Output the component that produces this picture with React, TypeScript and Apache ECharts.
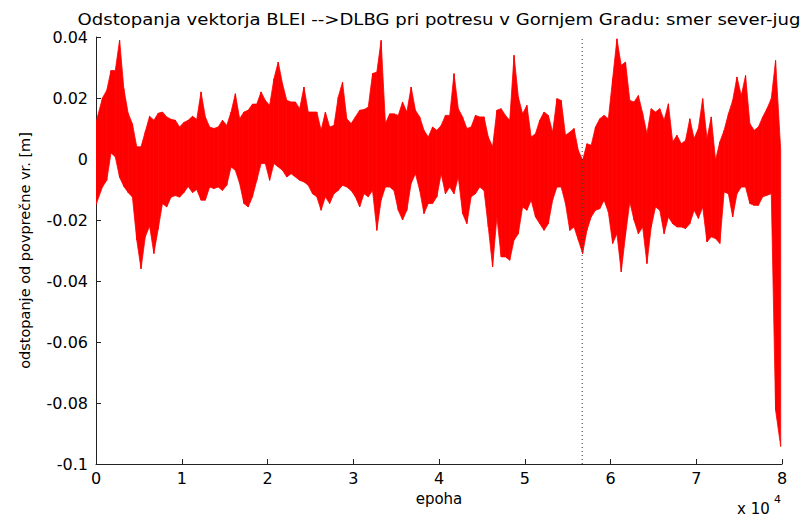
import React, { useEffect, useRef } from "react";
import * as echarts from "echarts";

// Epoch bin width (epochs per envelope sample)
const BIN = 500;

// Upper envelope (max deviation, m) per 500-epoch bin
const upper: number[] = [
  0.012, 0.02, 0.0225, 0.029, 0.029, 0.039, 0.023, 0.015, 0.0115, 0.004,
  0.004, 0.009, 0.014, 0.0127, 0.015, 0.0154, 0.0138, 0.013, 0.0127, 0.0105,
  0.012, 0.0127, 0.014, 0.013, 0.022, 0.0138, 0.0105, 0.01, 0.0105, 0.0127,
  0.011, 0.0154, 0.0214, 0.0132, 0.0154, 0.016, 0.018, 0.018, 0.022, 0.0192,
  0.0176, 0.0263, 0.0318, 0.0247, 0.0192, 0.0187, 0.0187, 0.0165, 0.0236, 0.0154,
  0.0154, 0.0154, 0.0094, 0.0154, 0.0105, 0.011, 0.0203, 0.0252, 0.0132, 0.0116,
  0.0138, 0.016, 0.0162, 0.017, 0.028, 0.0285, 0.0389, 0.0116, 0.0148, 0.0148,
  0.0143, 0.0187, 0.0154, 0.0236, 0.016, 0.0138, 0.0094, 0.0072, 0.0105, 0.0094,
  0.011, 0.0143, 0.0143, 0.028, 0.0165, 0.0138, 0.01, 0.0105, 0.0143, 0.0138,
  0.0138, 0.0072, 0.004, 0.016, 0.0165, 0.0143, 0.0127, 0.034, 0.0203, 0.0148,
  0.0176, 0.0072, 0.0083, 0.0127, 0.0154, 0.0143, 0.0088, 0.0198, 0.0192, 0.0078,
  0.0088, 0.01, 0.0028, -0.0004, 0.005, 0.0045, 0.0105, 0.0132, 0.0143, 0.0132,
  0.0263, 0.0394, 0.0307, 0.0318, 0.0192, 0.0187, 0.0208, 0.015, 0.0083, 0.0165,
  0.0154, 0.0165, 0.0127, 0.0181, 0.0056, 0.0078, 0.005, 0.0061, 0.0132, 0.0067,
  0.01, 0.0198, 0.0067, 0.0138, -0.0004, 0.0056, 0.0094, 0.0148, 0.0192, 0.0269,
  0.0208, 0.0274, 0.0116, 0.0094, 0.0105, 0.0138, 0.0165, 0.0198, 0.0323, 0.0028,
];

// Lower envelope (min deviation, m) per 500-epoch bin
const lower: number[] = [
  -0.015, -0.0092, -0.007, 0.002, 0.0007, -0.006, -0.009, -0.011, -0.0125, -0.0265,
  -0.036, -0.0255, -0.022, -0.031, -0.023, -0.0146, -0.0157, -0.0125, -0.012, -0.0125,
  -0.011, -0.009, -0.011, -0.01, -0.0135, -0.0135, -0.0092, -0.0097, -0.0092, -0.0103,
  -0.0086, -0.0026, -0.0037, -0.008, -0.0146, -0.0157, -0.0124, -0.007, -0.0015, -0.0015,
  -0.007, -0.0015, -0.0026, -0.0037, -0.0059, -0.0048, -0.0059, -0.007, -0.0075, -0.0086,
  -0.0114, -0.0124, -0.0168, -0.0124, -0.0146, -0.0114, -0.0103, -0.0086, -0.0092, -0.0103,
  -0.0124, -0.0157, -0.0114, -0.0124, -0.0103, -0.0234, -0.0135, -0.0092, -0.0092, -0.0103,
  -0.0168, -0.02, -0.0168, -0.008, -0.0048, -0.0103, -0.0179, -0.0146, -0.0146, -0.0124,
  -0.0048, -0.0114, -0.0092, -0.0114, -0.0059, -0.0179, -0.0212, -0.0124, -0.0114, -0.0092,
  -0.0103, -0.0223, -0.0354, -0.019, -0.0321, -0.0321, -0.0332, -0.0266, -0.0245, -0.0157,
  -0.0168, -0.0135, -0.019, -0.0212, -0.0234, -0.0212, -0.0135, -0.0092, -0.0092, -0.0146,
  -0.0234, -0.0223, -0.0266, -0.031, -0.0234, -0.019, -0.0168, -0.0163, -0.0135, -0.0174,
  -0.0277, -0.0245, -0.037, -0.025, -0.0141, -0.0201, -0.0245, -0.0223, -0.0343, -0.0223,
  -0.0157, -0.0168, -0.0245, -0.019, -0.0212, -0.0223, -0.0223, -0.0228, -0.0212, -0.0168,
  -0.0195, -0.0157, -0.0272, -0.0255, -0.0261, -0.0277, -0.0108, -0.0114, -0.019, -0.0114,
  -0.0092, -0.0092, -0.0146, -0.0152, -0.0152, -0.0124, -0.0119, -0.0114, -0.0823, -0.0943,
];

// Earthquake epoch marker (dotted line)
const quakeEpoch = 56700;
// First and last recorded epochs
const firstEpoch = 0;
const lastEpoch = 79850;

const X_MIN = 0;
const X_MAX = 80000;
const X_STEP = 10000;
const Y_MIN = -0.1;
const Y_MAX = 0.04;
const Y_STEP = 0.02;

const TITLE = "Odstopanja vektorja BLEI -->DLBG pri potresu v Gornjem Gradu: smer sever-jug";
const X_NAME = "epoha";
const Y_NAME = "odstopanje od povprečne vr. [m]";

const FONT = "DejaVu Sans";
const RED = "#ff0000";

export default function App() {
  const ref = useRef<HTMLDivElement>(null);

  useEffect(() => {
    if (!ref.current) return;
    const chart = echarts.init(ref.current, null, { renderer: "svg" });
    const n = upper.length;
    const xs = upper.map((_, i) =>
      i === 0 ? firstEpoch : i === n - 1 ? lastEpoch : i * BIN + BIN / 2
    );
    // each segment joins bin i to bin i+1
    const segs: number[][] = [];
    for (let i = 0; i < n - 1; i++) {
      segs.push([xs[i], upper[i], lower[i], xs[i + 1], upper[i + 1], lower[i + 1]]);
    }

    chart.setOption({
      animation: false,
      backgroundColor: "#ffffff",
      grid: { left: 96, right: 21, top: 37, bottom: 52, containLabel: false },
      xAxis: {
        type: "value",
        min: X_MIN,
        max: X_MAX,
        interval: X_STEP,
        name: X_NAME,
        nameLocation: "middle",
        nameGap: 27,
        nameTextStyle: { fontFamily: FONT, fontSize: 15, color: "#000" },
        axisLine: { show: true, onZero: false, lineStyle: { color: "#222", width: 1 } },
        axisTick: { show: true, inside: true, length: 5, lineStyle: { color: "#222" } },
        axisLabel: {
          fontFamily: FONT,
          fontSize: 16,
          color: "#000",
          margin: 6,
          formatter: (v: number) => String(v / 10000),
        },
        splitLine: { show: false },
      },
      yAxis: {
        type: "value",
        min: Y_MIN,
        max: Y_MAX,
        interval: Y_STEP,
        name: Y_NAME,
        nameLocation: "middle",
        nameGap: 64,
        nameRotate: 90,
        nameTextStyle: { fontFamily: FONT, fontSize: 14.5, color: "#000" },
        axisLine: { show: true, onZero: false, lineStyle: { color: "#222", width: 1 } },
        axisTick: { show: true, inside: true, length: 5, lineStyle: { color: "#222" } },
        axisLabel: {
          fontFamily: FONT,
          fontSize: 16,
          color: "#000",
          margin: 8,
          formatter: (v: number) => String(parseFloat(v.toFixed(2))),
        },
        splitLine: { show: false },
      },
      graphic: [
        {
          type: "text",
          x: 439,
          y: 19,
          scaleX: 1.13,
          style: {
            text: TITLE,
            fontFamily: FONT,
            fontSize: 16,
            fill: "#000",
            align: "center",
            verticalAlign: "middle",
          },
        },
        {
          type: "text",
          left: 737,
          top: 501,
          style: { text: "x 10", fontFamily: FONT, fontSize: 15, fill: "#000" },
        },
        {
          type: "text",
          left: 774,
          top: 494,
          style: { text: "4", fontFamily: FONT, fontSize: 11, fill: "#000" },
        },
      ],
      series: [
        {
          type: "custom",
          clip: true,
          encode: { x: [0, 3], y: [1, 2, 4, 5] },
          data: segs,
          renderItem: (params: any, api: any) => {
            const a = api.coord([api.value(0), api.value(1)]);
            const b = api.coord([api.value(3), api.value(4)]);
            const c = api.coord([api.value(3), api.value(5)]);
            const d = api.coord([api.value(0), api.value(2)]);
            return {
              type: "polygon",
              shape: { points: [a, b, c, d] },
              style: { fill: RED, stroke: RED, lineWidth: 0.8 },
            };
          },
          z: 2,
        },
        {
          type: "line",
          data: [
            [quakeEpoch, Y_MIN],
            [quakeEpoch, Y_MAX],
          ],
          symbol: "none",
          lineStyle: { color: "#333", width: 1, type: [1, 3] },
          z: 5,
        },
      ],
    });
    return () => chart.dispose();
  }, []);

  return (
    <div
      ref={ref}
      style={{ position: "fixed", left: 0, top: 0, width: 803, height: 516 }}
    />
  );
}
